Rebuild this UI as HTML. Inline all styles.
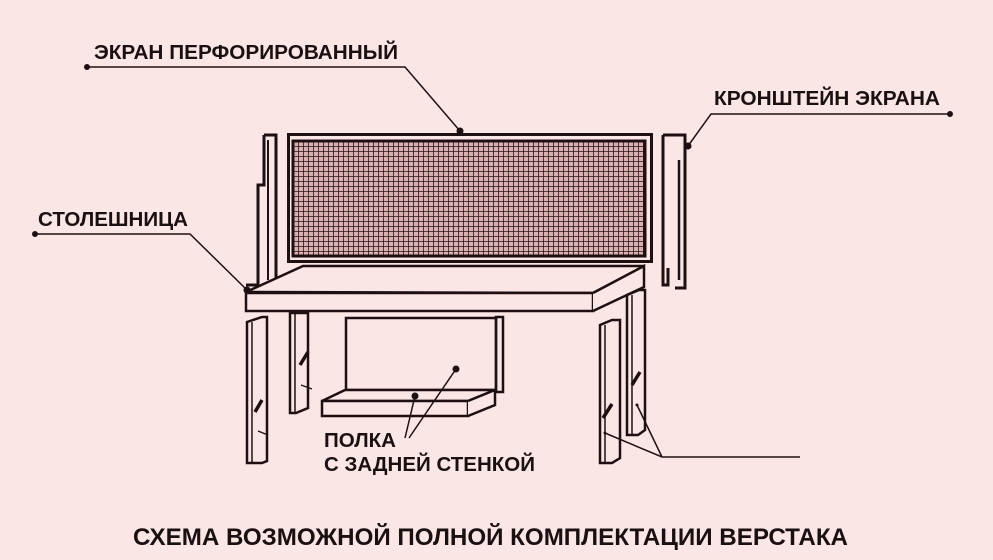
<!DOCTYPE html>
<html><head><meta charset="utf-8"><style>
html,body{margin:0;padding:0;background:#fbe6e6;}
svg{display:block}
text{font-family:"Liberation Sans",sans-serif;fill:#1a1012}
</style></head><body>
<svg width="993" height="560" viewBox="0 0 993 560" xmlns="http://www.w3.org/2000/svg">
<defs>
<pattern id="g" x="293" y="141" width="5" height="5" patternUnits="userSpaceOnUse">
<rect width="5" height="5" fill="#d9b0b0"/>
<path d="M0 0V5M0 0H5" stroke="#2a1416" stroke-width="1.6"/>
</pattern>
</defs>
<rect width="993" height="560" fill="#fbe6e6"/>
<g stroke="#1e1012" fill="none">
<!-- screen -->
<rect x="288.5" y="134.5" width="363" height="127" stroke-width="3"/>
<rect x="293" y="141" width="352" height="115" fill="url(#g)" stroke-width="3"/>
<!-- left bracket -->
<path d="M264 135H276V285M264 135V185H258V285H246" stroke-width="3"/>
<path d="M268 140V280" stroke-width="2"/>
<!-- right bracket -->
<path d="M663 135H685V288H675M663 135V285H668V268" stroke-width="3"/>
<path d="M679 160V280" stroke-width="2.5"/>
<!-- tabletop -->
<path d="M246 292L303 266H644L593 293Z" stroke-width="2.5" fill="#fbe6e6"/>
<rect x="246" y="293" width="347" height="18" stroke-width="2.5" fill="#fbe6e6"/>
<path d="M593 293L644 266V287L593 311" stroke-width="2.5" fill="#fbe6e6"/>
<!-- legs -->
<path d="M247 322L262 317H267V461L262 463H247Z" stroke-width="2.5"/>
<path d="M252 322V462" stroke-width="1.5"/>
<path d="M290 313H308V408L296 413H290Z" stroke-width="2.5"/>
<path d="M295 313V412" stroke-width="1.5"/>
<path d="M600 325L612 320H620V458L612 463H600Z" stroke-width="2.5"/>
<path d="M605 325V462" stroke-width="1.5"/>
<path d="M627 295L639 290H645V430L638 435H627Z" stroke-width="2.5"/>
<path d="M632 295V434" stroke-width="1.5"/>
<path d="M255 412L262 400M300 365L308 352M603 418L612 404M632 385L640 372" stroke-width="3.5"/>
<!-- shelf -->
<rect x="346" y="318" width="150" height="72" stroke-width="2.5"/>
<rect x="496" y="317" width="7" height="75" stroke-width="2.5"/>
<path d="M322 401L345 390H495L468 401Z" stroke-width="2.5" fill="#fbe6e6"/>
<rect x="322" y="401" width="146" height="15" stroke-width="2.5" fill="#fbe6e6"/>
<path d="M468 401L495 390V405L468 416" stroke-width="2.5" fill="#fbe6e6"/>
<!-- leader lines -->
<path d="M87 67H405L460 131" stroke-width="1.5"/>
<path d="M950 114H711L688 146" stroke-width="1.5"/>
<path d="M35 234H190L247 290" stroke-width="1.5"/>
<path d="M405 438L415 396M409 438L456 369" stroke-width="1.5"/>
<path d="M800 457H662L605 433M662 457L637 405" stroke-width="1.5"/>
<path d="M258 431L268 435M301 385L312 389" stroke-width="1.3"/>
</g>
<g fill="#1e1012">
<circle cx="87" cy="67" r="3"/><circle cx="460" cy="131" r="3.5"/>
<circle cx="950" cy="114" r="3"/><circle cx="688" cy="146" r="3.5"/>
<circle cx="35" cy="234" r="3"/><circle cx="247" cy="290" r="3.5"/>
<circle cx="415" cy="396" r="3.5"/><circle cx="456" cy="369" r="3.5"/>
<circle cx="605" cy="433" r="1.5"/><circle cx="637" cy="405" r="1.5"/>
</g>
<text x="94" y="59" font-size="20" font-weight="bold" textLength="304" lengthAdjust="spacingAndGlyphs">ЭКРАН ПЕРФОРИРОВАННЫЙ</text>
<text x="714" y="105" font-size="20" font-weight="bold" textLength="226" lengthAdjust="spacingAndGlyphs">КРОНШТЕЙН ЭКРАНА</text>
<text x="38" y="226" font-size="20" font-weight="bold" textLength="150" lengthAdjust="spacingAndGlyphs">СТОЛЕШНИЦА</text>
<text x="324" y="447" font-size="20" font-weight="bold" textLength="72" lengthAdjust="spacingAndGlyphs">ПОЛКА</text>
<text x="324" y="471" font-size="20" font-weight="bold" textLength="211" lengthAdjust="spacingAndGlyphs">С ЗАДНЕЙ СТЕНКОЙ</text>
<text x="133" y="545" font-size="24" font-weight="bold" textLength="715" lengthAdjust="spacingAndGlyphs">СХЕМА ВОЗМОЖНОЙ ПОЛНОЙ КОМПЛЕКТАЦИИ ВЕРСТАКА</text>
</svg>
</body></html>
